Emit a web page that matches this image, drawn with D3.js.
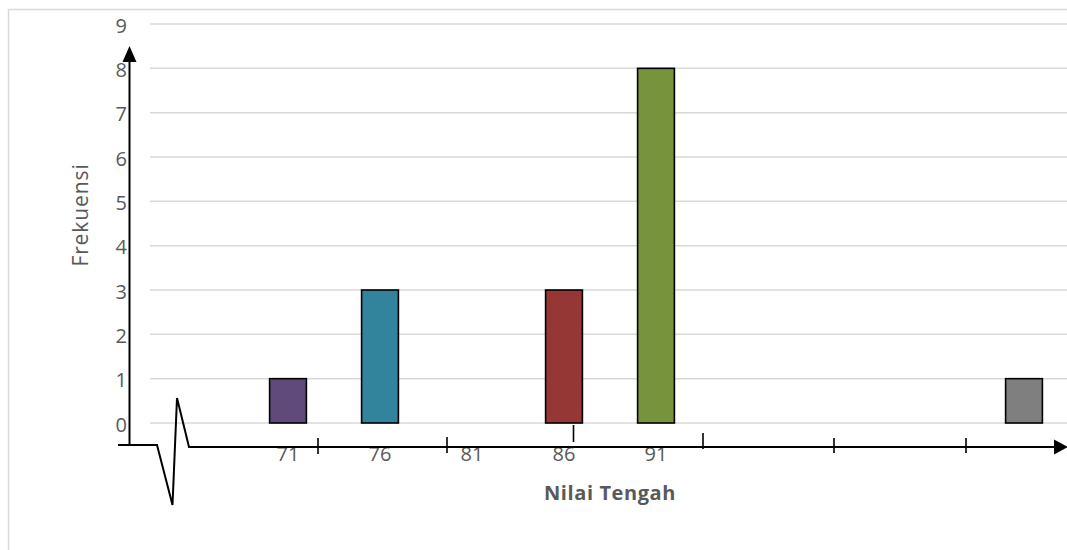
<!DOCTYPE html>
<html>
<head>
<meta charset="utf-8">
<script src="https://cdn.jsdelivr.net/npm/d3@7"></script>
<style>
  html, body { margin: 0; padding: 0; background: #fff; }
  svg { display: block; font-family: "Open Sans", Lato, sans-serif; }
</style>
</head>
<body>
<svg id="chart" width="1067" height="550"></svg>
<script>
// Frequency of each class mid-value
const categories = ["", "71", "76", "81", "86", "91", " ", "  ", "   ", "    "];
const frequencies = [0, 1, 3, 0, 3, 8, 0, 0, 0, 1];
const barColors = ["#604a7b", "#604a7b", "#31849b", "#953735", "#953735", "#77933c", "#7f7f7f", "#7f7f7f", "#7f7f7f", "#7f7f7f"];
const yTicks = [0, 1, 2, 3, 4, 5, 6, 7, 8, 9];

const FONT = "'Open Sans', Lato, sans-serif";
const svg = d3.select("#chart");
const plot = { left: 150, right: 1070, top: 24, bottom: 423 };

// chart frame
svg.append("rect")
  .attr("x", 8.5).attr("y", 9.5)
  .attr("width", 1080).attr("height", 560)
  .attr("fill", "none").attr("stroke", "#d9d9d9").attr("stroke-width", 1.5);

const x = d3.scaleBand()
  .domain(categories)
  .range([plot.left, plot.right])
  .paddingInner(0.6)
  .paddingOuter(0.3);

const y = d3.scaleLinear()
  .domain([0, 9])
  .range([plot.bottom, plot.top]);

// horizontal gridlines
svg.append("g")
  .selectAll("line")
  .data(yTicks)
  .join("line")
  .attr("x1", plot.left).attr("x2", plot.right)
  .attr("y1", d => y(d)).attr("y2", d => y(d))
  .attr("stroke", "#d9d9d9").attr("stroke-width", 1.5);

// value axis labels
const yAxis = d3.axisLeft(y).tickValues(yTicks).tickSize(0).tickPadding(0);
svg.append("g")
  .attr("transform", `translate(127,0)`)
  .call(yAxis)
  .attr("font-family", FONT)
  .attr("font-size", 20)
  .call(g => g.select(".domain").remove())
  .selectAll("text")
  .attr("dy", "0.4em")
  .attr("fill", "#595959");

// bars
svg.append("g")
  .selectAll("rect")
  .data(categories.map((c, i) => ({ c, v: frequencies[i], col: barColors[i] })).filter(d => d.v > 0))
  .join("rect")
  .attr("x", d => x(d.c))
  .attr("y", d => y(d.v))
  .attr("width", x.bandwidth())
  .attr("height", d => y(0) - y(d.v))
  .attr("fill", d => d.col)
  .attr("stroke", "#000").attr("stroke-width", 1.6);

// category labels
const xAxis = d3.axisBottom(x).tickSize(0).tickPadding(0);
svg.append("g")
  .attr("transform", `translate(0,447)`)
  .call(xAxis)
  .attr("font-family", FONT)
  .attr("font-size", 20)
  .call(g => g.select(".domain").remove())
  .selectAll("text")
  .attr("fill", "#595959");

// axis titles
svg.append("text")
  .attr("x", (plot.left + plot.right) / 2).attr("y", 500)
  .attr("text-anchor", "middle")
  .attr("font-family", FONT)
  .attr("font-size", 20).attr("font-weight", "bold")
  .attr("letter-spacing", 0.6)
  .attr("fill", "#595959")
  .text("Nilai Tengah");

svg.append("text")
  .attr("transform", "translate(88,215) rotate(-90)")
  .attr("text-anchor", "middle")
  .attr("font-family", FONT)
  .attr("font-size", 21)
  .attr("letter-spacing", 0.9)
  .attr("fill", "#595959")
  .text("Frekuensi");

// drawn axes with arrowheads and a broken-scale mark
const ink = svg.append("g").attr("stroke", "#000").attr("fill", "none").attr("stroke-width", 2);

ink.append("line").attr("x1", 129.5).attr("y1", 445).attr("x2", 129.5).attr("y2", 56);
svg.append("path").attr("d", "M129.5,46 L122.5,62 L136.5,62 Z").attr("fill", "#000");

ink.append("path")
  .attr("d", "M118,445 L157,445 L172.5,505 L177,398 L189,447 L1056,447");
svg.append("path").attr("d", "M1068,447 L1054,439.5 L1054,454.5 Z").attr("fill", "#000");

const tickMarks = [
  { x: 318, y1: 438, y2: 454 },
  { x: 447, y1: 437, y2: 453 },
  { x: 573.5, y1: 425, y2: 442 },
  { x: 703, y1: 433, y2: 449 },
  { x: 834, y1: 438, y2: 453 },
  { x: 966, y1: 438, y2: 453 }
];
ink.selectAll(".tk")
  .data(tickMarks)
  .join("line")
  .attr("x1", d => d.x).attr("x2", d => d.x)
  .attr("y1", d => d.y1).attr("y2", d => d.y2)
  .attr("stroke-width", 1.6);
</script>
</body>
</html>
